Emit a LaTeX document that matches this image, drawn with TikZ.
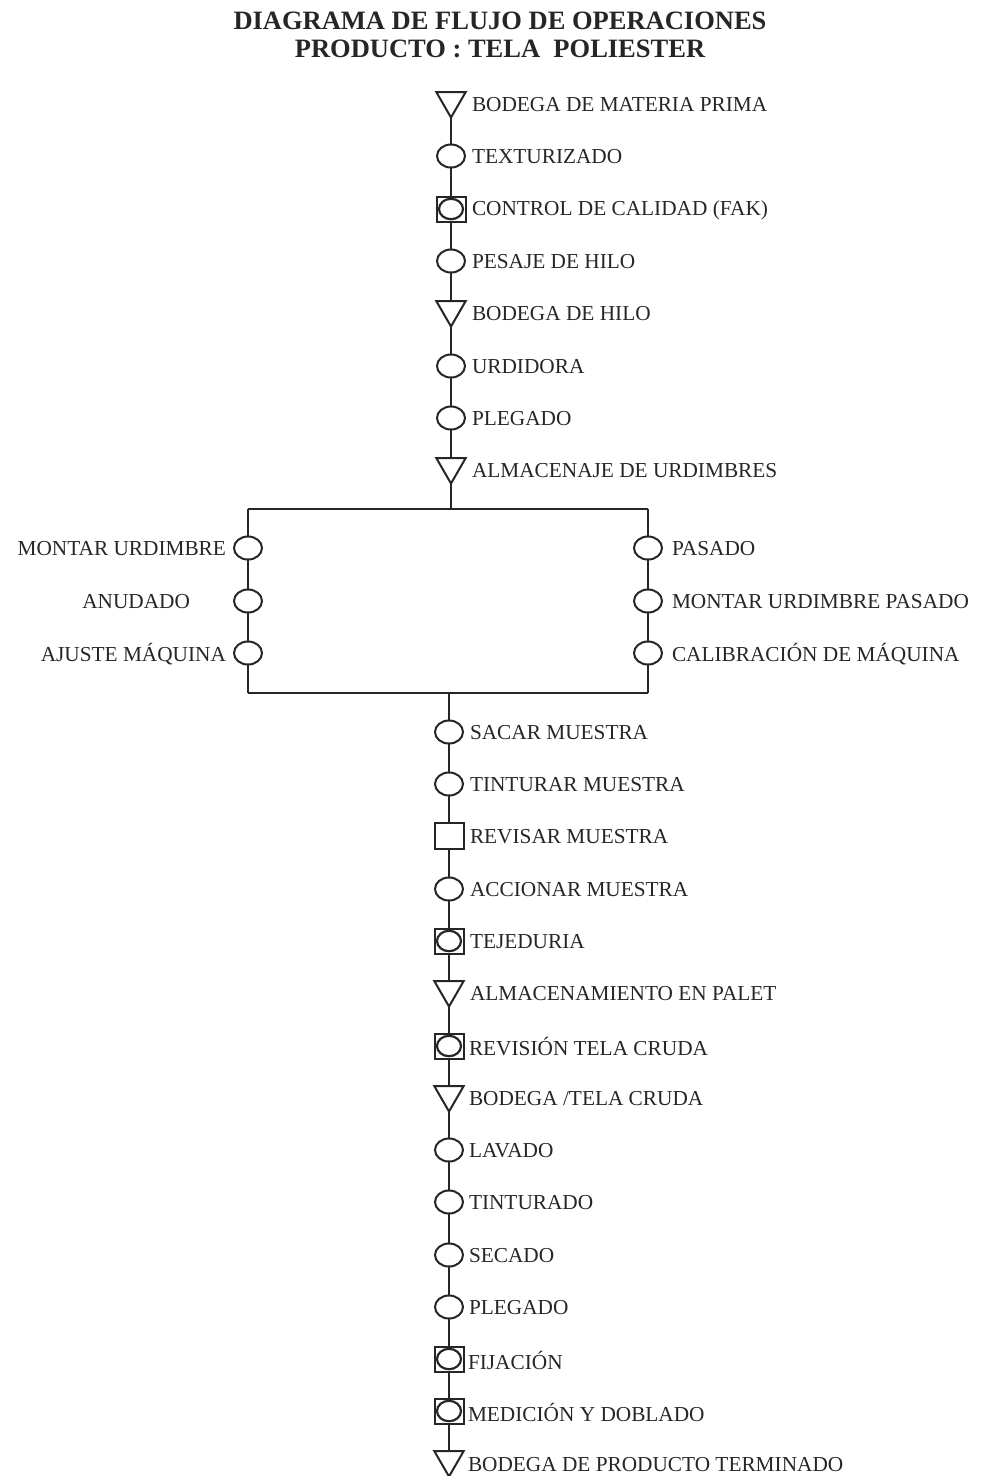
\documentclass[tikz,border=0pt]{standalone}
\usepackage{fontspec}
\setmainfont{Liberation Serif}
\usetikzlibrary{shapes.geometric}
\begin{document}
\begin{tikzpicture}[x=1pt,y=-1pt,
  every node/.style={inner sep=0pt,outer sep=0pt},
  line/.style={line width=2pt,black!85},
  op/.style={draw,line width=2pt,black!85,ellipse,minimum width=28pt,minimum height=23pt},
  insp/.style={draw,line width=2pt,black!85,rectangle,minimum width=29pt,minimum height=26pt},
  comb/.style={draw,line width=2pt,black!85,rectangle,minimum width=29pt,minimum height=25pt,
     path picture={\draw[line width=2.2pt,black!85] (path picture bounding box.center) ellipse (12pt and 10.2pt);}},
  store/.style={draw,line width=2pt,black!85,regular polygon,regular polygon sides=3,shape border rotate=180,minimum size=34pt},
  lbl/.style={font=\fontsize{21.3}{24}\selectfont,text=black!85,anchor=west},
  lblr/.style={font=\fontsize{21.3}{24}\selectfont,text=black!85,anchor=east},
  ttl/.style={font=\fontsize{26.5}{30}\selectfont\bfseries,text=black!85}]
\useasboundingbox (0,0) rectangle (981,1476);
% title
\node[ttl] (title1) at (500,21) {DIAGRAMA DE FLUJO DE OPERACIONES};
\node[ttl] (title2) at (500,49) {PRODUCTO : TELA\ \ POLIESTER};
% upper chain
\node[store] (n1) at (451,100.5) {};
\node[op]    (n2) at (451,156) {};
\node[comb]  (n3) at (451,209) {};
\node[op]    (n4) at (451,261) {};
\node[store] (n5) at (451,309.5) {};
\node[op]    (n6) at (451,366) {};
\node[op]    (n7) at (451,418) {};
\node[store] (n8) at (451,466.5) {};
\node[lbl] (t1) at (472,105) {BODEGA DE MATERIA PRIMA};
\node[lbl] (t2) at (472,157) {TEXTURIZADO};
\node[lbl] (t3) at (472,210) {CONTROL DE CALIDAD (FAK)};
\node[lbl] (t4) at (472,262) {PESAJE DE HILO};
\node[lbl] (t5) at (472,314) {BODEGA DE HILO};
\node[lbl] (t6) at (472,367) {URDIDORA};
\node[lbl] (t7) at (472,419) {PLEGADO};
\node[lbl] (t8) at (472,471) {ALMACENAJE DE URDIMBRES};
% box
\coordinate (tl) at (248,509);
\coordinate (tr) at (648,509);
\coordinate (bl) at (248,693);
\coordinate (br) at (648,693);
\coordinate (jt) at (451,509);
\coordinate (jb) at (449,693);
\node[op] (l1) at (248,548) {};
\node[op] (l2) at (248,601) {};
\node[op] (l3) at (248,653) {};
\node[op] (r1) at (648,548) {};
\node[op] (r2) at (648,601) {};
\node[op] (r3) at (648,653) {};
\node[lblr] (tl1) at (226,549) {MONTAR URDIMBRE};
\node[lblr] (tl2) at (190,602) {ANUDADO};
\node[lblr] (tl3) at (226,654) {AJUSTE MÁQUINA};
\node[lbl] (tr1) at (672,549) {PASADO};
\node[lbl] (tr2) at (672,602) {MONTAR URDIMBRE PASADO};
\node[lbl] (tr3) at (672,654) {CALIBRACIÓN DE MÁQUINA};
% lower chain
\node[op]    (n9)  at (449,732) {};
\node[op]    (n10) at (449,784) {};
\node[insp]  (n11) at (449,836) {};
\node[op]    (n12) at (449,889) {};
\node[comb]  (n13) at (449,941) {};
\node[store] (n14) at (449,989.5) {};
\node[comb]  (n15) at (449,1046) {};
\node[store] (n16) at (449,1094.5) {};
\node[op]    (n17) at (449,1150) {};
\node[op]    (n18) at (449,1202) {};
\node[op]    (n19) at (449,1255) {};
\node[op]    (n20) at (449,1307) {};
\node[comb]  (n21) at (449,1359) {};
\node[comb]  (n22) at (449,1411) {};
\node[store] (n23) at (449,1459.5) {};
\node[lbl] (t9)  at (470,733) {SACAR MUESTRA};
\node[lbl] (t10) at (470,785) {TINTURAR MUESTRA};
\node[lbl] (t11) at (470,837) {REVISAR MUESTRA};
\node[lbl] (t12) at (470,890) {ACCIONAR MUESTRA};
\node[lbl] (t13) at (470,942) {TEJEDURIA};
\node[lbl] (t14) at (470,994) {ALMACENAMIENTO EN PALET};
\node[lbl] (t15) at (469,1047) {REVISIÓN TELA CRUDA};
\node[lbl] (t16) at (469,1099) {BODEGA /TELA CRUDA};
\node[lbl] (t17) at (469,1151) {LAVADO};
\node[lbl] (t18) at (469,1203) {TINTURADO};
\node[lbl] (t19) at (469,1256) {SECADO};
\node[lbl] (t20) at (469,1308) {PLEGADO};
\node[lbl] (t21) at (468,1360) {FIJACIÓN};
\node[lbl] (t22) at (468,1412) {MEDICIÓN Y DOBLADO};
\node[lbl] (t23) at (468,1465) {BODEGA DE PRODUCTO TERMINADO};
% connectors
\draw[line] (n1) -- (n2) -- (n3) -- (n4) -- (n5) -- (n6) -- (n7) -- (n8) -- (jt);
\draw[line] (tl) -- (tr);
\draw[line] (bl) -- (br);
\draw[line] (tl) -- (l1) -- (l2) -- (l3) -- (bl);
\draw[line] (tr) -- (r1) -- (r2) -- (r3) -- (br);
\draw[line] (jb) -- (n9) -- (n10) -- (n11) -- (n12) -- (n13) -- (n14) -- (n15) -- (n16) -- (n17) -- (n18) -- (n19) -- (n20) -- (n21) -- (n22) -- (n23);
\end{tikzpicture}
\end{document}
